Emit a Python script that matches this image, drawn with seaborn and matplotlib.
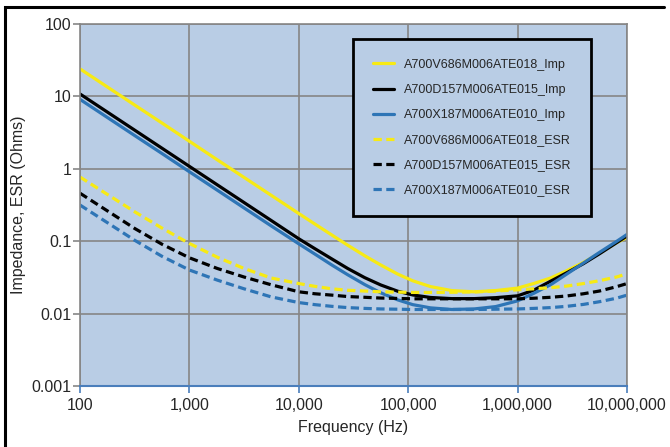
import pandas as pd
import matplotlib
matplotlib.use("Agg")
import matplotlib.pyplot as plt
import seaborn as sns
from matplotlib.lines import Line2D
from matplotlib.ticker import FixedLocator, FixedFormatter

# frequency points (Hz)
freq = [100, 316, 560, 1000, 1800, 3160, 5600, 10000, 14000, 20000, 28000, 40000,
        56000, 80000, 110000, 160000, 250000, 400000, 630000, 1000000, 1400000,
        2000000, 2800000, 4000000, 5600000, 8000000, 10000000]

# impedance curves (Ohms)
imp_v686 = [24, 7.6, 4.3, 2.4, 1.33, 0.76, 0.43, 0.241, 0.173, 0.122, 0.088, 0.063,
            0.047, 0.0352, 0.0284, 0.0236, 0.0208, 0.0200, 0.0208, 0.0225, 0.026,
            0.031, 0.039, 0.051, 0.068, 0.095, 0.113]
imp_d157 = [10.8, 3.42, 1.93, 1.08, 0.60, 0.342, 0.193, 0.108, 0.079, 0.057, 0.042, 0.0314,
            0.0249, 0.0204, 0.0181, 0.0167, 0.0161, 0.0161, 0.0166, 0.0176, 0.021,
            0.028, 0.0365, 0.049, 0.067, 0.095, 0.118]
imp_x187 = [9.1, 2.88, 1.63, 0.91, 0.506, 0.288, 0.1625, 0.092, 0.0665, 0.047, 0.0344, 0.0252,
            0.0194, 0.0155, 0.0133, 0.0120, 0.0114, 0.0116, 0.0125, 0.0150, 0.019,
            0.025, 0.035, 0.050, 0.070, 0.099, 0.124]

# ESR curves (Ohms)
esr_v686 = [0.77, 0.255, 0.152, 0.093, 0.060, 0.042, 0.031, 0.026, 0.0238, 0.022, 0.021, 0.0205,
            0.020, 0.0198, 0.0196, 0.0196, 0.0197, 0.0199, 0.0205, 0.0213, 0.022,
            0.0228, 0.024, 0.026, 0.0285, 0.032, 0.0354]
esr_d157 = [0.46, 0.15, 0.091, 0.059, 0.042, 0.032, 0.025, 0.020, 0.0188, 0.018, 0.0172, 0.0168,
            0.0164, 0.0162, 0.016, 0.016, 0.016, 0.016, 0.016, 0.016, 0.0163,
            0.0168, 0.0175, 0.0188, 0.0205, 0.0235, 0.026]
esr_x187 = [0.316, 0.103, 0.062, 0.040, 0.029, 0.022, 0.017, 0.0142, 0.0133, 0.0126, 0.0121, 0.0118,
            0.0116, 0.0115, 0.0114, 0.0114, 0.0114, 0.0114, 0.0115, 0.0116, 0.0118,
            0.0121, 0.0126, 0.0134, 0.0146, 0.0163, 0.018]

labels = ["A700V686M006ATE018_Imp", "A700D157M006ATE015_Imp", "A700X187M006ATE010_Imp",
          "A700V686M006ATE018_ESR", "A700D157M006ATE015_ESR", "A700X187M006ATE010_ESR"]
series = [imp_v686, imp_d157, imp_x187, esr_v686, esr_d157, esr_x187]

x_ticks = [100, 1000, 10000, 100000, 1000000, 10000000]
x_ticklabels = ["100", "1,000", "10,000", "100,000", "1,000,000", "10,000,000"]
y_ticks = [0.001, 0.01, 0.1, 1, 10, 100]
y_ticklabels = ["0.001", "0.01", "0.1", "1", "10", "100"]

YELLOW = "#f7ea14"
BLACK = "#000000"
BLUE = "#2e75b6"
colors = [YELLOW, BLACK, BLUE, YELLOW, BLACK, BLUE]
BG = "#b9cde5"
GRID = "#868686"

sns.set_style("white")
plt.rcParams["font.family"] = ["Liberation Sans", "DejaVu Sans"]

fig = plt.figure(figsize=(6.7, 4.47), dpi=100)
ax = fig.add_axes([80 / 670, 1 - 386 / 447, 547 / 670, 362 / 447])
ax.set_facecolor(BG)

for i, (vals, lab, col) in enumerate(zip(series, labels, colors)):
    df = pd.DataFrame({"f": freq, "v": vals})
    sns.lineplot(data=df, x="f", y="v", ax=ax, color=col, lw=2.3, label=lab)
    if i >= 3:
        ax.lines[-1].set_dashes((2.6, 1.4))

ax.set_xscale("log")
ax.set_yscale("log")
ax.set_xlim(100, 10000000)
ax.set_ylim(0.001, 100)
ax.xaxis.set_major_locator(FixedLocator(x_ticks))
ax.xaxis.set_major_formatter(FixedFormatter(x_ticklabels))
ax.yaxis.set_major_locator(FixedLocator(y_ticks))
ax.yaxis.set_major_formatter(FixedFormatter(y_ticklabels))
ax.minorticks_off()
ax.grid(True, color=GRID, lw=1.2)
ax.set_axisbelow(True)

for side in ["top", "right", "left"]:
    ax.spines[side].set_color(GRID)
    ax.spines[side].set_linewidth(1.2)
ax.spines["bottom"].set_color("#4a7ebb")
ax.spines["bottom"].set_linewidth(1.5)
ax.tick_params(axis="x", direction="out", length=5, color="#4a7ebb", width=1.2,
               labelsize=11.5, pad=4, bottom=True)
ax.tick_params(axis="y", direction="out", length=5, color=GRID, width=1.2,
               labelsize=11.5, pad=1, left=True)

ax.set_xlabel("Frequency (Hz)", fontsize=11.5, labelpad=5)
ax.set_ylabel("Impedance, ESR (Ohms)", fontsize=11.5, labelpad=4)

leg = ax.legend(loc="upper left", bbox_to_anchor=(0.499, 0.959), borderaxespad=0,
                fontsize=9, frameon=True, fancybox=False, facecolor=BG, framealpha=1,
                edgecolor="black", handlelength=1.7, handletextpad=0.75,
                labelspacing=1.05, borderpad=1.6)
leg.get_frame().set_linewidth(2)

# outer frame: left and top edges only, drawn in pixel units
frame = Line2D([4.5, 4.5, 664], [0, 440.5, 440.5], color="black", lw=2.2,
               solid_joinstyle="miter", transform=None)
fig.add_artist(frame)

fig.savefig("out.png", dpi=100)
